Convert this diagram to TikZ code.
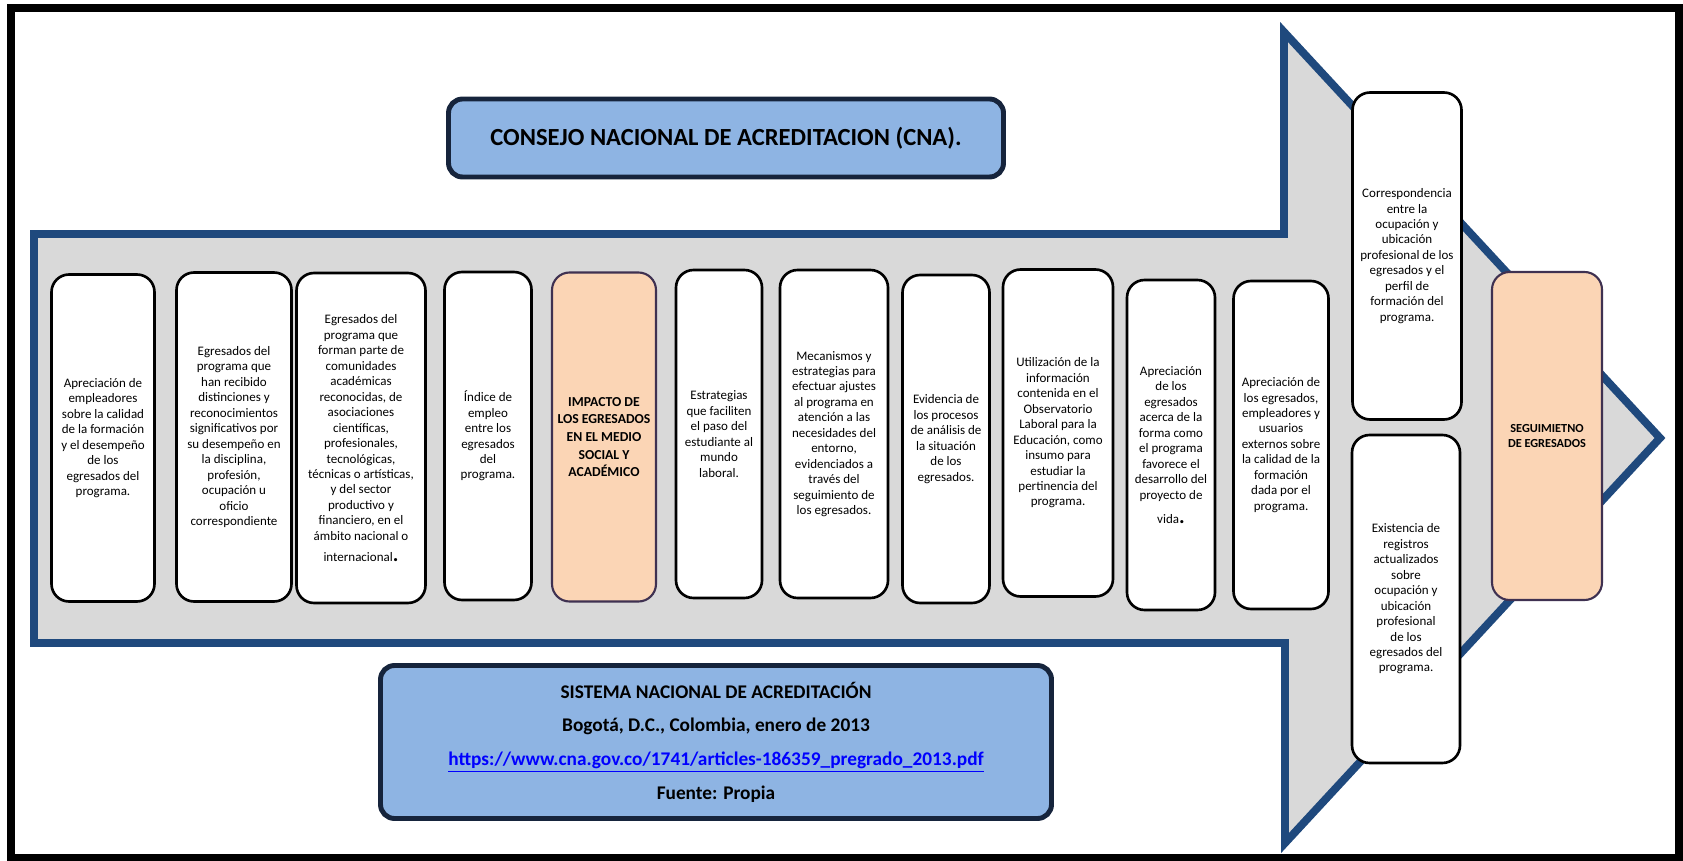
\documentclass[tikz,border=0pt]{standalone}
\usepackage{fontspec}
\setmainfont{Carlito}
\usepackage{tikz}
\usetikzlibrary{shapes.geometric}
\definecolor{flecha}{RGB}{31,73,125}
\definecolor{gris}{RGB}{217,217,217}
\definecolor{azulclaro}{RGB}{142,180,227}
\definecolor{azuloscuro}{RGB}{22,36,60}
\definecolor{durazno}{RGB}{251,213,181}
\definecolor{morado}{RGB}{63,49,81}
\definecolor{enlace}{RGB}{0,0,255}
\tikzstyle{box}=[fill=white,draw=black,line width=1.5pt,rounded corners=10pt,align=center,inner sep=1pt,font=\fontsize{7.4}{8.8}\selectfont]
\tikzstyle{box2}=[fill=durazno,draw=morado,line width=1.2pt,rounded corners=10pt,align=center,inner sep=1pt]
\tikzstyle{head}=[fill=azulclaro,draw=azuloscuro,line width=2.8pt,rounded corners=8pt,align=center]
\tikzset{wh/.style 2 args={minimum width=#1*0.02cm,minimum height=#2*0.02cm}}

\begin{document}
\begin{tikzpicture}[x=0.02cm,y=-0.02cm]

\useasboundingbox (0,0) rectangle (1683,861);
\draw [line width=4.5pt] (11,8) rectangle (1679,858);

% flecha
\draw [fill=gris,draw=flecha,line width=4.5pt,line join=miter] (34,234) -- (1284,234) -- (1284,32) -- (1660,438) -- (1285,843) -- (1285,643) -- (34,643) -- cycle;

\node (CNA) [head,wh={555}{78},font=\fontsize{14}{16}\selectfont\bfseries] at (726,138) {CONSEJO NACIONAL DE ACREDITACION (CNA).};

\node (SNA) [head,wh={671}{153},font=\fontsize{11}{19.2}\selectfont\bfseries] at (716,742) {SISTEMA NACIONAL DE ACREDITACIÓN\\
Bogotá, D.C., Colombia, enero de 2013\\
\textcolor{enlace}{\underline{https://www.cna.gov.co/1741/articles-186359\_pregrado\_2013.pdf}}\\
Fuente: Propia};

\node (E1) [box,wh={103}{327}] at (103,438) {Apreciación de\\ empleadores\\ sobre la calidad\\ de la formación\\ y el desempeño\\ de los\\ egresados del\\ programa.};
\node (E2) [box,wh={115}{329}] at (234,437) {Egresados del\\ programa que\\ han recibido\\ distinciones y\\ reconocimientos\\ significativos por\\ su desempeño en\\ la disciplina,\\ profesión,\\ ocupación u\\ oficio\\ correspondiente};
\node (E3) [box,wh={129}{330}] at (361,438) {Egresados del\\ programa que\\ forman parte de\\ comunidades\\ académicas\\ reconocidas, de\\ asociaciones\\ científicas,\\ profesionales,\\ tecnológicas,\\ técnicas o artísticas,\\ y del sector\\ productivo y\\ financiero, en el\\ ámbito nacional o\\[3pt] internacional{\large\bfseries .}};
\node (E4) [box,wh={87}{328}] at (488,436) {Índice de\\ empleo\\ entre los\\ egresados\\ del\\ programa.};
\node (E5) [box2,wh={104}{329},font=\fontsize{7.8}{10}\selectfont\bfseries] at (604,437) {IMPACTO DE\\ LOS EGRESADOS\\ EN EL MEDIO\\ SOCIAL Y\\ ACADÉMICO};
\node (E6) [box,wh={86}{328}] at (719,434) {Estrategias\\ que faciliten\\ el paso del\\ estudiante al\\ mundo\\ laboral.};
\node (E7) [box,wh={108}{328}] at (834,434) {Mecanismos y\\ estrategias para\\ efectuar ajustes\\ al programa en\\ atención a las\\ necesidades del\\ entorno,\\ evidenciados a\\ través del\\ seguimiento de\\ los egresados.};
\node (E8) [box,wh={87}{328}] at (946,439) {Evidencia de\\ los procesos\\ de análisis de\\ la situación\\ de los\\ egresados.};
\node (E9) [box,wh={110}{327}] at (1058,433) {Utilización de la\\ información\\ contenida en el\\ Observatorio\\ Laboral para la\\ Educación, como\\ insumo para\\ estudiar la\\ pertinencia del\\ programa.};
\node (E10) [box,wh={88}{330}] at (1171,445) {Apreciación\\ de los\\ egresados\\ acerca de la\\ forma como\\ el programa\\ favorece el\\ desarrollo del\\ proyecto de\\[5pt] vida{\large\bfseries .}};
\node (E11) [box,wh={95}{328}] at (1281,445) {Apreciación de\\ los egresados,\\ empleadores y\\ usuarios\\ externos sobre\\ la calidad de la\\ formación\\ dada por el\\ programa.};
\node (E12) [box,wh={109}{327}] at (1407,256) {Correspondencia\\ entre la\\ ocupación y\\ ubicación\\ profesional de los\\ egresados y el\\ perfil de\\ formación del\\ programa.};
\node (E13) [box,wh={108}{328}] at (1406,599) {Existencia de\\ registros\\ actualizados\\ sobre\\ ocupación y\\ ubicación\\ profesional\\ de los\\ egresados del\\ programa.};

\node (SE) [box2,wh={110}{328},font=\fontsize{7}{8}\selectfont\bfseries] at (1547,436) {SEGUIMIETNO\\ DE EGRESADOS};

\end{tikzpicture}
\end{document}
